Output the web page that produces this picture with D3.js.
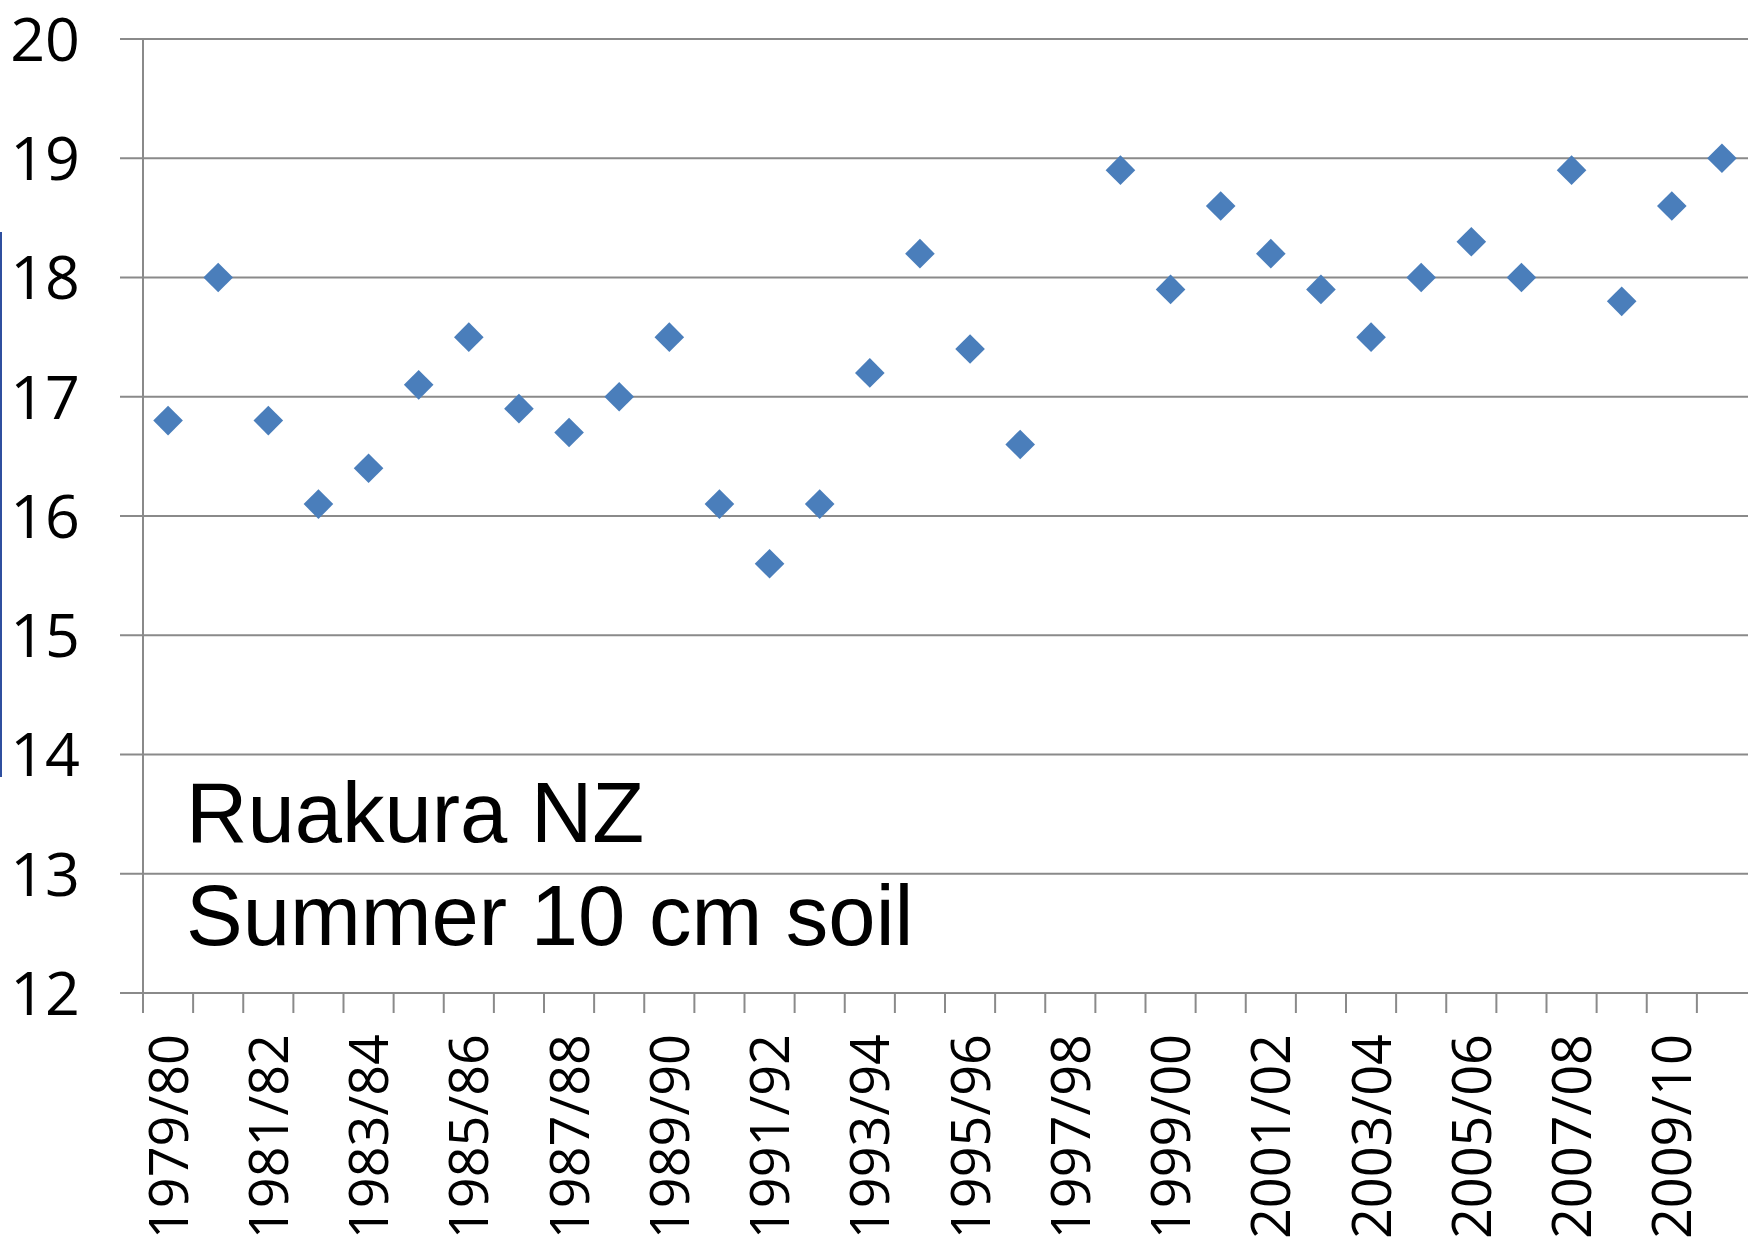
<!DOCTYPE html>
<html>
<head>
<meta charset="utf-8">
<script src="https://cdn.jsdelivr.net/npm/d3@7"></script>
<style>
  body { margin: 0; background: #fff; }
  svg { display: block; }
</style>
</head>
<body>
<div id="chart"></div>
<script>
// Summer soil temperature at 10 cm, Ruakura NZ
const seasons = [
  "1979/80", "1980/81", "1981/82", "1982/83", "1983/84", "1984/85", "1985/86", "1986/87",
  "1987/88", "1988/89", "1989/90", "1990/91", "1991/92", "1992/93", "1993/94", "1994/95",
  "1995/96", "1996/97", "1997/98", "1998/99", "1999/00", "2000/01", "2001/02", "2002/03",
  "2003/04", "2004/05", "2005/06", "2006/07", "2007/08", "2008/09", "2009/10", "2010/11"
];
const soilTemp = [
  16.8, 18.0, 16.8, 16.1, 16.4, 17.1, 17.5, 16.9,
  16.7, 17.0, 17.5, 16.1, 15.6, 16.1, 17.2, 18.2,
  17.4, 16.6, null, 18.9, 17.9, 18.6, 18.2, 17.9,
  17.5, 18.0, 18.3, 18.0, 18.9, 17.8, 18.6, 19.0
];
const yTicks = [12, 13, 14, 15, 16, 17, 18, 19, 20];
const labelSeasons = seasons.filter((d, i) => i % 2 === 0);
const noteLines = ["Ruakura NZ", "Summer 10 cm soil"];

const width = 1748, height = 1243;
const margin = {top: 39, right: 1, bottom: 250, left: 143};
const innerWidth = width - margin.left - margin.right;
const innerHeight = height - margin.top - margin.bottom;

const svg = d3.select("#chart")
    .append("svg")
    .attr("width", width)
    .attr("height", height);

const g = svg.append("g")
    .attr("transform", `translate(${margin.left},${margin.top})`);

const xScale = d3.scaleBand().domain(seasons).range([0, innerWidth]);
const yScale = d3.scaleLinear().domain([12, 20]).range([innerHeight, 0]);

const gridColor = "#8a8a8a";

// Horizontal gridlines (extend left past the axis like tick marks)
g.append("g").attr("class", "grid")
  .selectAll("line")
  .data(yTicks)
  .join("line")
    .attr("x1", -23)
    .attr("x2", innerWidth + margin.right)
    .attr("y1", d => yScale(d))
    .attr("y2", d => yScale(d))
    .attr("stroke", gridColor)
    .attr("stroke-width", 2);

// Y axis line
g.append("line")
    .attr("x1", 0).attr("x2", 0)
    .attr("y1", 0).attr("y2", innerHeight + 20)
    .attr("stroke", gridColor)
    .attr("stroke-width", 2);

// Y tick labels
g.append("g").attr("class", "y-labels")
  .selectAll("text")
  .data(yTicks)
  .join("text")
    .attr("x", -63)
    .attr("y", d => yScale(d))
    .attr("dy", "0.36em")
    .attr("text-anchor", "end")
    .style("font-family", "'Open Sans', sans-serif")
    .style("font-size", "61px")
    .style("fill", "#000")
    .text(d => d);

// Category tick marks at band boundaries
g.append("g").attr("class", "x-ticks")
  .selectAll("line")
  .data(seasons)
  .join("line")
    .attr("x1", d => xScale(d))
    .attr("x2", d => xScale(d))
    .attr("y1", innerHeight)
    .attr("y2", innerHeight + 20)
    .attr("stroke", gridColor)
    .attr("stroke-width", 2);

// Rotated category labels (every second season)
g.append("g").attr("class", "x-labels")
  .selectAll("text")
  .data(labelSeasons)
  .join("text")
    .attr("transform", d => `translate(${xScale(d) + xScale.bandwidth() / 2},${innerHeight + 41}) rotate(-90)`)
    .attr("text-anchor", "end")
    .attr("dy", "0.36em")
    .style("font-family", "'Open Sans', sans-serif")
    .style("font-size", "54px")
    .style("fill", "#000")
    .text(d => d);

// Diamond markers
const diamond = d3.symbol().type(d3.symbolDiamond2).size(560);
g.append("g").attr("class", "points")
  .selectAll("path")
  .data(seasons.map((s, i) => ({season: s, value: soilTemp[i]})).filter(d => d.value != null))
  .join("path")
    .attr("d", diamond)
    .attr("transform", d => `translate(${xScale(d.season) + xScale.bandwidth() / 2},${yScale(d.value)})`)
    .attr("fill", "#4a7ebb");

// Annotation
const note = g.append("text")
    .attr("x", 43)
    .attr("y", 842 - margin.top)
    .style("font-family", "'Liberation Sans', Arial, sans-serif")
    .style("font-size", "85px")
    .style("fill", "#000");
note.selectAll("tspan")
  .data(noteLines)
  .join("tspan")
    .attr("x", 43)
    .attr("dy", (d, i) => i === 0 ? 0 : 103)
    .text(d => d);

// Thin blue stray line at the left edge
svg.append("line")
    .attr("x1", 1).attr("x2", 1)
    .attr("y1", 232).attr("y2", 777)
    .attr("stroke", "#2f4f9f")
    .attr("stroke-width", 2);
</script>
</body>
</html>
